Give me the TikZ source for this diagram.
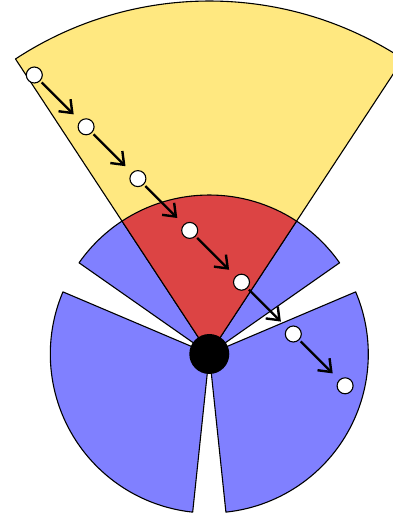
\documentclass[tikz,border=0pt]{standalone}
\usetikzlibrary{arrows.meta}
\definecolor{sectorblue}{RGB}{128,128,255}
\definecolor{sectorred}{RGB}{220,68,68}
\definecolor{sectoryellow}{RGB}{255,232,128}
\tikzset{
  sector/.style={draw=black, line width=1.1pt, line join=round},
  dot/.style={circle, draw=black, fill=white, line width=1.1pt, minimum size=16pt, inner sep=0pt},
  hub/.style={circle, fill=black, minimum size=40pt, inner sep=0pt},
  steparrow/.style={-{Straight Barb[length=11pt,width=17pt]}, line width=2.4pt, shorten <=2pt, shorten >=9pt}
}
\begin{document}
\begin{tikzpicture}[x=1pt,y=1pt]
\useasboundingbox (-209.3,-163) rectangle (183.7,354);
\clip (-209.3,-163) rectangle (183.7,354);
% blue sectors
\filldraw[sector, fill=sectorblue] (0,0) -- (35:159) arc[start angle=35, end angle=145, radius=159] -- cycle;
\filldraw[sector, fill=sectorblue] (0,0) -- (-84:159) arc[start angle=-84, end angle=23, radius=159] -- cycle;
\filldraw[sector, fill=sectorblue] (0,0) -- (157:159) arc[start angle=157, end angle=264, radius=159] -- cycle;
% yellow and red sectors
\filldraw[sector, fill=sectoryellow] (0,0) -- (56.7:353) arc[start angle=56.7, end angle=123.3, radius=353] -- cycle;
\filldraw[sector, fill=sectorred] (0,0) -- (56.7:159) arc[start angle=56.7, end angle=123.3, radius=159] -- cycle;
% hub
\node[hub] (c) at (0,0) {};
% dots
\foreach \k in {1,...,7} {
  \node[dot] (d\k) at ({-175+51.8*(\k-1)}, {279-51.8*(\k-1)}) {};
}
\foreach \a/\b in {1/2,2/3,3/4,4/5,5/6,6/7} {
  \draw[steparrow] (d\a) -- (d\b);
}
\end{tikzpicture}
\end{document}
